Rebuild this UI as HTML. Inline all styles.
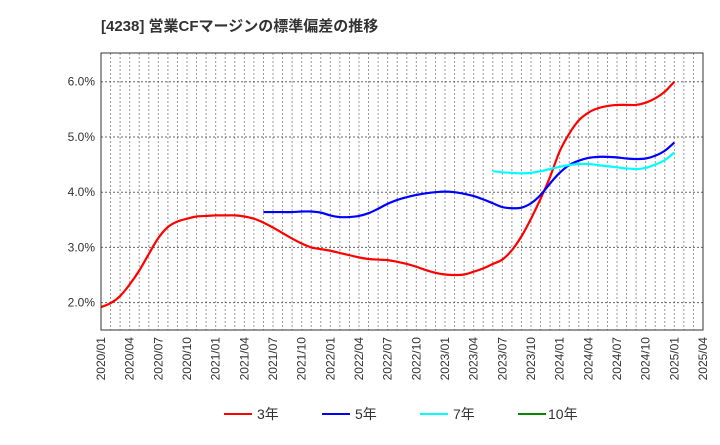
<!DOCTYPE html>
<html><head><meta charset="utf-8"><style>
body{margin:0;background:#fff;}
svg text{font-family:"Liberation Sans","Noto Sans CJK JP",sans-serif;fill:#333;}
</style></head><body>
<svg width="720" height="440" xmlns="http://www.w3.org/2000/svg">
<text x="101" y="31" font-size="15" font-weight="bold">[4238]  営業CFマージンの標準偏差の推移</text>
<g id="grid"></g>
<g id="yaxis"></g>
<g id="xaxis"></g>
<g id="series"></g>
<rect x="101" y="53" width="602" height="277" fill="none" stroke="#333" stroke-width="1"/>
<g>
<g><line x1="224" y1="414" x2="252" y2="414" stroke="#f00" stroke-width="2"/><text x="257" y="419" font-size="14">3年</text></g>
<g><line x1="322" y1="414" x2="350" y2="414" stroke="#00f" stroke-width="2"/><text x="355" y="419" font-size="14">5年</text></g>
<g><line x1="420" y1="414" x2="448" y2="414" stroke="#0ff" stroke-width="2"/><text x="453" y="419" font-size="14">7年</text></g>
<g><line x1="518" y1="414" x2="546" y2="414" stroke="#080" stroke-width="2"/><text x="548" y="419" font-size="14">10年</text></g>
</g>
</svg>
<script>
const yTicks=[2.0,3.0,4.0,5.0,6.0];
const xTickLabels=["2020/01","2020/04","2020/07","2020/10","2021/01","2021/04","2021/07","2021/10","2022/01","2022/04","2022/07","2022/10","2023/01","2023/04","2023/07","2023/10","2024/01","2024/04","2024/07","2024/10","2025/01","2025/04"];
const s3Start=0;
const s3=[1.92,1.99,2.12,2.33,2.58,2.88,3.17,3.37,3.47,3.52,3.56,3.57,3.58,3.58,3.58,3.56,3.52,3.45,3.36,3.26,3.16,3.07,3.00,2.97,2.94,2.90,2.86,2.82,2.79,2.78,2.77,2.74,2.70,2.65,2.59,2.54,2.51,2.50,2.51,2.56,2.62,2.70,2.78,2.95,3.20,3.52,3.88,4.28,4.74,5.06,5.30,5.44,5.52,5.56,5.58,5.58,5.58,5.62,5.70,5.82,6.00];
const s5Start=17;
const s5=[3.64,3.64,3.64,3.64,3.65,3.65,3.63,3.58,3.55,3.55,3.57,3.62,3.70,3.79,3.86,3.91,3.95,3.98,4.00,4.01,4.00,3.97,3.93,3.87,3.80,3.73,3.71,3.72,3.80,3.95,4.16,4.35,4.49,4.57,4.62,4.64,4.64,4.63,4.61,4.60,4.61,4.66,4.75,4.90];
const s7Start=41;
const s7=[4.38,4.36,4.35,4.34,4.35,4.38,4.42,4.46,4.49,4.51,4.51,4.49,4.47,4.45,4.43,4.42,4.44,4.50,4.58,4.72];

const L=101,R=703,T=53,B=330,yMin=1.505,yMax=6.52,nMonths=63;
const X=m=>L+(R-L)*m/nMonths;
const Y=v=>B-(B-T)*(v-yMin)/(yMax-yMin);
const NS="http://www.w3.org/2000/svg";
function mk(tag,attrs,parent){const e=document.createElementNS(NS,tag);for(const k in attrs)e.setAttribute(k,attrs[k]);parent.appendChild(e);return e;}
const grid=document.getElementById('grid'),ya=document.getElementById('yaxis'),xa=document.getElementById('xaxis'),ser=document.getElementById('series');
for(let m=1;m<nMonths;m++){const l=mk('line',{x1:X(m),x2:X(m),y1:T,y2:B,stroke:'#999','stroke-width':1,'stroke-dasharray':'2,2'},grid);

}
yTicks.forEach(v=>{const l=mk('line',{x1:L,x2:R,y1:Y(v),y2:Y(v),stroke:'#666','stroke-width':1,'stroke-dasharray':'2,2'},grid);


const t=mk('text',{x:L-6,y:Y(v)+4,'text-anchor':'end','font-size':12},ya);t.textContent=v.toFixed(1)+'%';

});
xTickLabels.forEach((s,i)=>{const x=X(i*3);const t=mk('text',{x:0,y:0,'text-anchor':'end','font-size':12,transform:`translate(${x+4},${B+7}) rotate(-90)`},xa);t.textContent=s;

});
function draw(vals,start,color,name){const pts=vals.map((v,i)=>[X(start+i),Y(v)]);
let d='M'+pts[0][0]+','+pts[0][1];
for(let i=0;i<pts.length-1;i++){const p0=pts[Math.max(0,i-1)],p1=pts[i],p2=pts[i+1],p3=pts[Math.min(pts.length-1,i+2)];
const c1=[p1[0]+(p2[0]-p0[0])/6,p1[1]+(p2[1]-p0[1])/6],c2=[p2[0]-(p3[0]-p1[0])/6,p2[1]-(p3[1]-p1[1])/6];
d+=` C${c1[0]},${c1[1]} ${c2[0]},${c2[1]} ${p2[0]},${p2[1]}`;}
const p=mk('path',{d:d,fill:'none',stroke:color,'stroke-width':2.2},ser);

}
draw(s3,s3Start,'#f00','line-3y');
draw(s5,s5Start,'#00f','line-5y');
draw(s7,s7Start,'#0ff','line-7y');
</script>
</body></html>
